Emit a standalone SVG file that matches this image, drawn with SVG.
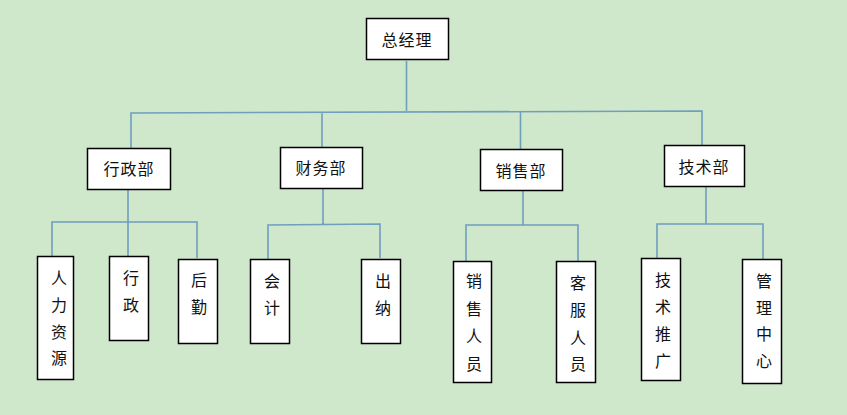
<svg xmlns="http://www.w3.org/2000/svg" width="847" height="415" viewBox="0 0 847 415">
<style>
.box{fill:#fff;stroke:#000;stroke-width:1.5}
.lbl{font-family:"Noto Sans CJK SC","Noto Sans CJK JP",sans-serif;font-size:16px;fill:#111;text-anchor:middle;dominant-baseline:central}
.ln{stroke:#6F9FBE;stroke-width:1.6;fill:none}
</style>
<rect width="847" height="415" fill="#CFE7CB"/>
<g id="connectors">
<path class="ln" d="M406.5 61V111M131 148V113L702 111V145M322 112V147M520.5 112V149"/>
<path class="ln" d="M128 190V256M52 257V222H197V258"/>
<path class="ln" d="M323 188V224M268 259V225L380 224V258"/>
<path class="ln" d="M523 190V225M466 261V225H578V261"/>
<path class="ln" d="M706 186V224M657 258V224H763V259"/>
</g>
<g id="n-zjl"><rect class="box" x="366.5" y="18.5" width="82" height="41"/><text class="lbl" x="407" y="39" letter-spacing="1">总经理</text></g>
<g id="n-xzb"><rect class="box" x="87.5" y="148.5" width="83" height="41"/><text class="lbl" x="129" y="168" letter-spacing="1">行政部</text></g>
<g id="n-cwb"><rect class="box" x="280.5" y="147.5" width="82" height="41"/><text class="lbl" x="321" y="167" letter-spacing="1">财务部</text></g>
<g id="n-xsb"><rect class="box" x="480.5" y="149.5" width="82" height="41"/><text class="lbl" x="521" y="170" letter-spacing="1">销售部</text></g>
<g id="n-jsb"><rect class="box" x="664.5" y="145.5" width="80" height="41"/><text class="lbl" x="704" y="166" letter-spacing="1">技术部</text></g>
<g id="n-rlzy"><rect class="box" x="37.5" y="256.5" width="36" height="123"/><text class="lbl"><tspan x="59" y="277">人</tspan><tspan x="59" y="304">力</tspan><tspan x="59" y="331">资</tspan><tspan x="59" y="357">源</tspan></text></g>
<g id="n-xz"><rect class="box" x="109.5" y="256.5" width="39" height="84"/><text class="lbl"><tspan x="131" y="277">行</tspan><tspan x="131" y="304">政</tspan></text></g>
<g id="n-hq"><rect class="box" x="178.5" y="259.5" width="39" height="84"/><text class="lbl"><tspan x="199" y="279">后</tspan><tspan x="199" y="306">勤</tspan></text></g>
<g id="n-kj"><rect class="box" x="250.5" y="259.5" width="39" height="84"/><text class="lbl"><tspan x="272" y="280">会</tspan><tspan x="272" y="307">计</tspan></text></g>
<g id="n-cn"><rect class="box" x="361.5" y="259.5" width="39" height="84"/><text class="lbl"><tspan x="383" y="280">出</tspan><tspan x="383" y="307">纳</tspan></text></g>
<g id="n-xsry"><rect class="box" x="453.5" y="261.5" width="38" height="121"/><text class="lbl"><tspan x="474" y="280">销</tspan><tspan x="474" y="308">售</tspan><tspan x="474" y="335">人</tspan><tspan x="474" y="363">员</tspan></text></g>
<g id="n-kfry"><rect class="box" x="556.5" y="261.5" width="39" height="121"/><text class="lbl"><tspan x="578" y="282">客</tspan><tspan x="578" y="309">服</tspan><tspan x="578" y="337">人</tspan><tspan x="578" y="363">员</tspan></text></g>
<g id="n-jstg"><rect class="box" x="641.5" y="258.5" width="39" height="122"/><text class="lbl"><tspan x="663" y="279">技</tspan><tspan x="663" y="306">术</tspan><tspan x="663" y="333">推</tspan><tspan x="663" y="360">广</tspan></text></g>
<g id="n-glzx"><rect class="box" x="742.5" y="259.5" width="39" height="124"/><text class="lbl"><tspan x="764" y="280">管</tspan><tspan x="764" y="307">理</tspan><tspan x="764" y="333">中</tspan><tspan x="764" y="360">心</tspan></text></g>
</svg>
